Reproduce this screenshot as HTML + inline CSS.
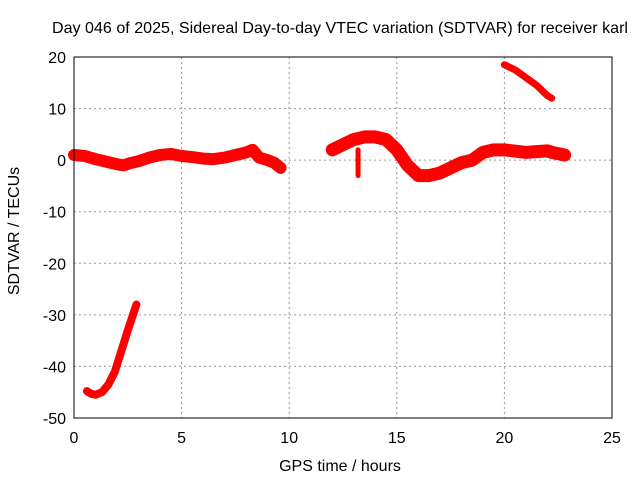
<!DOCTYPE html>
<html><head><meta charset="utf-8"><style>
body{margin:0;background:#fff;font-family:"Liberation Sans",sans-serif}
svg text{font-family:"Liberation Sans",sans-serif;font-size:16px;fill:#000}
</style></head><body>
<svg id="chart" width="640" height="480" viewBox="0 0 640 480">
<text x="340" y="33" text-anchor="middle" textLength="576" lengthAdjust="spacingAndGlyphs">Day 046 of 2025, Sidereal Day-to-day VTEC variation (SDTVAR) for receiver karl</text>
<text x="340" y="471" text-anchor="middle">GPS time / hours</text>
<text transform="translate(19,231) rotate(-90)" text-anchor="middle">SDTVAR / TECUs</text>
<g id="grid"></g><g id="marks"></g>
<rect x="74" y="57" width="538" height="361" fill="none" stroke="#000" stroke-width="1"/>
<g id="ticks"></g>
</svg>
<script>
const xTicks=[0,5,10,15,20,25];
const yTicks=[20,10,0,-10,-20,-30,-40,-50];
const s1T=[0,0.5,1,1.5,2,2.3,2.6,3,3.5,4,4.5,5,5.5,6,6.5,7,7.5,8,8.3,8.6,9,9.3,9.6];
const s1V=[1,0.8,0.2,-0.3,-0.8,-1,-0.6,-0.2,0.5,1,1.2,0.8,0.6,0.3,0.2,0.5,1,1.5,2,0.5,0,-0.5,-1.5];
const s2T=[12,12.5,13,13.5,14,14.5,15,15.5,16,16.5,17,17.5,18,18.5,19,19.5,20,21,22,22.2,22.8];
const s2V=[2,3,4,4.5,4.5,4,2,-1,-3,-3,-2.5,-1.5,-0.5,0,1.5,2,2,1.5,1.8,1.5,1];
const s3T=[13.2,13.2];
const s3V=[2,-3];
const s4T=[20,20.5,21,21.5,22,22.2];
const s4V=[18.5,17.5,16,14.5,12.5,12];
const s5T=[0.6,0.8,1,1.3,1.6,1.9,2.2,2.5,2.7,2.9];
const s5V=[-44.8,-45.3,-45.5,-45,-43.5,-41,-37,-33,-30.5,-28];
const X=t=>74+t*538/25, Y=v=>57+(20-v)*361/70;
const NS='http://www.w3.org/2000/svg';
const mk=(tag,a,p)=>{const e=document.createElementNS(NS,tag);for(const k in a)e.setAttribute(k,a[k]);p.appendChild(e);return e;};
const grid=document.getElementById('grid'),ticks=document.getElementById('ticks'),marks=document.getElementById('marks');
xTicks.forEach(t=>{
 if(t>0&&t<25){const g=mk('line',{x1:X(t),x2:X(t),y1:57,y2:418,stroke:'#999','stroke-dasharray':'2,3'},grid);
 
 }
 const l=mk('text',{x:X(t),y:443,'text-anchor':'middle'},ticks);l.textContent=t;
 
 
});
yTicks.forEach(v=>{
 if(v<20&&v>-50){const g=mk('line',{x1:74,x2:612,y1:Y(v),y2:Y(v),stroke:'#999','stroke-dasharray':'2,3'},grid);
 
 }
 const l=mk('text',{x:66,y:Y(v)+6,'text-anchor':'end'},ticks);l.textContent=v;
 
 
});
[[s1T,s1V,12,'series-day-segment-1'],[s2T,s2V,13,'series-day-segment-2'],[s3T,s3V,5,'series-spike'],[s4T,s4V,7,'series-upper-trace'],[s5T,s5V,8,'series-lower-trace']].forEach(([T,V,w,n])=>{
 const p=mk('polyline',{points:T.map((t,i)=>X(t)+','+Y(V[i])).join(' '),fill:'none',stroke:'#f00','stroke-width':w,'stroke-linejoin':'round','stroke-linecap':'round'},marks);
 
 
});
</script>
</body></html>
